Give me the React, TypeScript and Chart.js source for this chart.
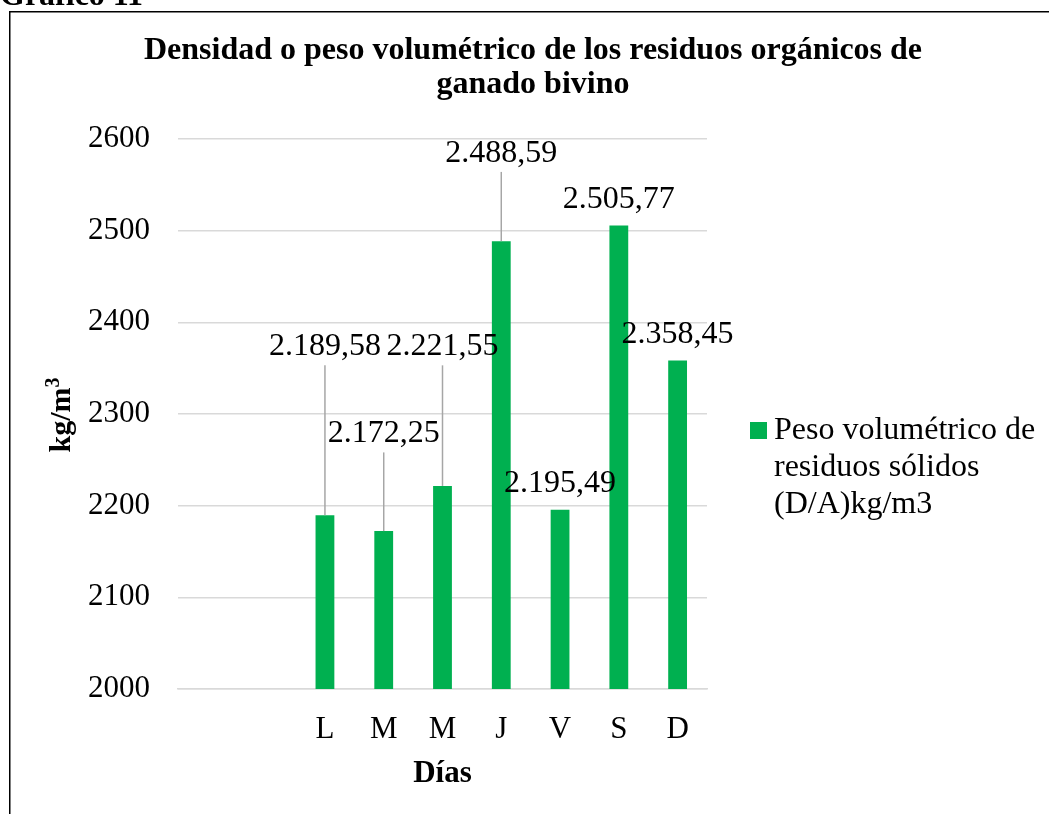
import React, { useEffect, useRef } from "react";
import { Chart, registerables } from "chart.js";

Chart.register(...registerables);

const categories = ["", "", "L", "M", "M", "J", "V", "S", "D"];
const seriesValues: (number | null)[] = [null, null, 2189.58, 2172.25, 2221.55, 2488.59, 2195.49, 2505.77, 2358.45];
// value (in y units) where each data label's baseline sits (labels were moved by hand in the original)
const labelAnchors: (number | null)[] = [null, null, 2364, 2269, 2364, 2575, 2215, 2525, 2377];
const yTicks = [2000, 2100, 2200, 2300, 2400, 2500, 2600];
const seriesName = "Peso volumétrico de residuos sólidos (D/A)kg/m3";
const legendLines = ["Peso volumétrico de", "residuos sólidos", "(D/A)kg/m3"];
const titleLines = ["Densidad o peso volumétrico de los residuos orgánicos de", "ganado bivino"];
const xTitle = "Días";
const yTitleBase = "kg/m";
const yTitleSup = "3";
const captionText = "Gráfico 11";

const GREEN = "#00B050";
const SERIF = "'Liberation Serif', 'Times New Roman', serif";

function fmt(v: number): string {
  const fixed = v.toFixed(2);
  const [intPart, dec] = fixed.split(".");
  const grouped = intPart.replace(/\B(?=(\d{3})+(?!\d))/g, ".");
  return grouped + "," + dec;
}

const decorPlugin = {
  id: "decor",
  beforeDraw(chart: any) {
    const ctx = chart.ctx;
    ctx.save();
    ctx.fillStyle = "#ffffff";
    ctx.fillRect(0, 0, chart.width, chart.height);
    ctx.strokeStyle = "#000000";
    ctx.lineWidth = 1.5;
    ctx.strokeRect(9.75, 11.75, 1200, 1000);
    ctx.fillStyle = "#000000";
    ctx.font = `bold 32px ${SERIF}`;
    ctx.textAlign = "left";
    ctx.textBaseline = "alphabetic";
    ctx.fillText(captionText, 0, 5);
    ctx.restore();
  },
  afterDraw(chart: any) {
    const ctx = chart.ctx;
    const area = chart.chartArea;
    const yScale = chart.scales.y;
    const meta = chart.getDatasetMeta(0);
    ctx.save();
    // title
    ctx.fillStyle = "#000000";
    ctx.font = `bold 32px ${SERIF}`;
    ctx.textAlign = "center";
    ctx.textBaseline = "alphabetic";
    ctx.fillText(titleLines[0], 533, 59);
    ctx.fillText(titleLines[1], 533, 93);

    // x title
    ctx.font = `bold 31px ${SERIF}`;
    ctx.fillText(xTitle, (area.left + area.right) / 2, 782);

    // y title rotated with superscript
    ctx.save();
    ctx.translate(70, 415);
    ctx.rotate(-Math.PI / 2);
    ctx.font = `bold 30px ${SERIF}`;
    const wBase = ctx.measureText(yTitleBase).width;
    ctx.font = `bold 20px ${SERIF}`;
    const wSup = ctx.measureText(yTitleSup).width;
    const start = -(wBase + wSup) / 2;
    ctx.textAlign = "left";
    ctx.font = `bold 30px ${SERIF}`;
    ctx.fillText(yTitleBase, start, 0);
    ctx.font = `bold 20px ${SERIF}`;
    ctx.fillText(yTitleSup, start + wBase, -11);
    ctx.restore();

    // data labels + leader lines
    ctx.font = `32px ${SERIF}`;
    ctx.textAlign = "center";
    meta.data.forEach((bar: any, i: number) => {
      const v = seriesValues[i];
      const a = labelAnchors[i];
      if (v == null || a == null) return;
      const x = bar.x;
      const top = bar.y;
      const base = yScale.getPixelForValue(a);
      const lineStart = base + 10;
      if (top - lineStart > 20) {
        ctx.strokeStyle = "#a6a6a6";
        ctx.lineWidth = 1.5;
        ctx.beginPath();
        ctx.moveTo(x, lineStart);
        ctx.lineTo(x, top);
        ctx.stroke();
      }
      ctx.fillStyle = "#000000";
      ctx.fillText(fmt(v), x, base);
    });

    // legend
    ctx.fillStyle = GREEN;
    ctx.fillRect(750, 422, 17, 17);
    ctx.fillStyle = "#000000";
    ctx.textAlign = "left";
    ctx.font = `32px ${SERIF}`;
    legendLines.forEach((t, i) => ctx.fillText(t, 774, 439 + i * 37));
    ctx.restore();
  },
};

export default function App() {
  const ref = useRef<HTMLCanvasElement | null>(null);
  useEffect(() => {
    if (!ref.current) return;
    const chart = new Chart(ref.current, {
      type: "bar",
      data: {
        labels: categories,
        datasets: [
          {
            label: seriesName,
            data: seriesValues,
            backgroundColor: GREEN,
            categoryPercentage: 1,
            barPercentage: 0.32,
          },
        ],
      },
      options: {
        animation: false,
        responsive: false,
        devicePixelRatio: 1,
        layout: { padding: { top: 139, right: 342, bottom: 0, left: 0 } },
        plugins: {
          legend: { display: false },
          title: { display: false },
          tooltip: { enabled: false },
        },
        scales: {
          x: {
            grid: { display: false, drawTicks: false },
            border: { display: true, color: "#d9d9d9", width: 1.5 },
            ticks: {
              color: "#000000",
              font: { family: SERIF, size: 31 },
              padding: 22,
              maxRotation: 0,
              autoSkip: false,
            },
            afterFit(scale: any) {
              scale.height = 125;
            },
          },
          y: {
            min: 2000,
            max: 2600,
            afterBuildTicks(scale: any) {
              scale.ticks = yTicks.map((v) => ({ value: v }));
            },
            grid: { color: "#d9d9d9", lineWidth: 1.5, drawTicks: false },
            border: { display: false },
            ticks: {
              color: "#000000",
              font: { family: SERIF, size: 31 },
              padding: 28,
              callback: (value: any) => String(value),
            },
            afterFit(scale: any) {
              scale.width = 178;
            },
          },
        },
      },
      plugins: [decorPlugin],
    });
    return () => chart.destroy();
  }, []);
  return (
    <canvas
      ref={ref}
      width={1049}
      height={814}
      style={{ position: "fixed", left: 0, top: 0, width: 1049, height: 814 }}
    />
  );
}
